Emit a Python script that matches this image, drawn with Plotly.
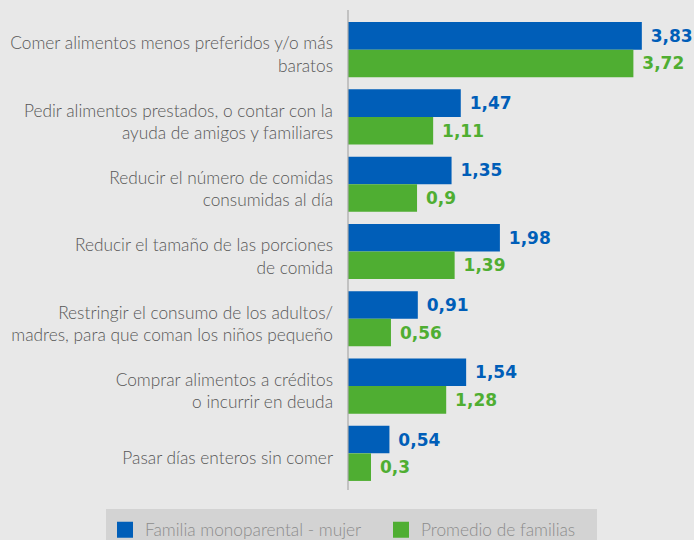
import plotly.graph_objects as go

categories = [
    "Comer alimentos menos preferidos y/o más<br>baratos",
    "Pedir alimentos prestados, o contar con la<br>ayuda de amigos y familiares",
    "Reducir el número de comidas<br>consumidas al día",
    "Reducir el tamaño de las porciones<br>de comida",
    "Restringir el consumo de los adultos/<br>madres, para que coman los niños pequeño",
    "Comprar alimentos a créditos<br>o incurrir en deuda",
    "Pasar días enteros sin comer",
]
serie_mujer = [3.83, 1.47, 1.35, 1.98, 0.91, 1.54, 0.54]
serie_promedio = [3.72, 1.11, 0.9, 1.39, 0.56, 1.28, 0.3]
names = ["Familia monoparental - mujer", "Promedio de familias"]

BLUE = "#005eb8"
GREEN = "#4fae32"
BG = "#e8e8e8"

def fmt(v):
    return "\u00a0" + f"{v:g}".replace(".", ",")

fig = go.Figure()
for vals, col in [(serie_mujer, BLUE), (serie_promedio, GREEN)]:
    fig.add_trace(go.Bar(
        y=categories, x=vals, orientation="h",
        marker=dict(color=col, line=dict(width=0)),
        text=[fmt(v) for v in vals], textposition="outside",
        textfont=dict(family="DejaVu Sans", size=17, color=col, weight="bold"),
        cliponaxis=False, showlegend=False, hoverinfo="skip",
    ))
# legend entries with larger square symbols
for i, (nm, col) in enumerate(zip(names, [BLUE, GREEN])):
    fig.add_trace(go.Scatter(
        x=[None], y=[None], mode="markers", name=nm,
        marker=dict(symbol="square", size=16, color=col),
        legend="legend" if i == 0 else "legend2",
    ))

leg_common = dict(orientation="h", xref="container", yref="container",
                  yanchor="middle", bgcolor="rgba(0,0,0,0)",
                  font=dict(family="Lato", size=17.3, color="#8c8c8c", weight=300),
                  itemclick=False, itemdoubleclick=False)

fig.update_layout(
    width=694, height=540,
    margin=dict(l=348, r=0, t=16, b=53),
    paper_bgcolor=BG, plot_bgcolor=BG,
    barmode="group", bargap=0.18, bargroupgap=0,
    xaxis=dict(range=[0, 4.51], visible=False, fixedrange=True, automargin=False),
    yaxis=dict(autorange="reversed", showgrid=False, zeroline=False,
               showline=False, ticks="", ticklabelstandoff=14, automargin=False,
               ticklabelshift=-5, fixedrange=True,
               tickfont=dict(family="Lato", size=17.3, color="#575757", weight=300)),
    showlegend=True,
    legend=dict(x=105 / 694, y=(540 - 530) / 540, xanchor="left", **leg_common),
    legend2=dict(x=381 / 694, y=(540 - 530) / 540, xanchor="left", **leg_common),
    shapes=[
        dict(type="rect", xref="paper", yref="paper",
             x0=(106 - 348) / 346, x1=(597 - 348) / 346,
             y0=-(545 - 487) / 471, y1=-(509 - 487) / 471,
             fillcolor="#d3d3d3", line=dict(width=0), layer="below"),
        dict(type="line", xref="paper", yref="paper",
             x0=0, x1=0, y0=-(490 - 487) / 471, y1=1 + (16 - 10) / 471,
             line=dict(color="#a8a8a8", width=1.2)),
    ],
)

fig.write_html("out.html", config={"displayModeBar": False},
               post_script="document.body.style.margin='0px';")
